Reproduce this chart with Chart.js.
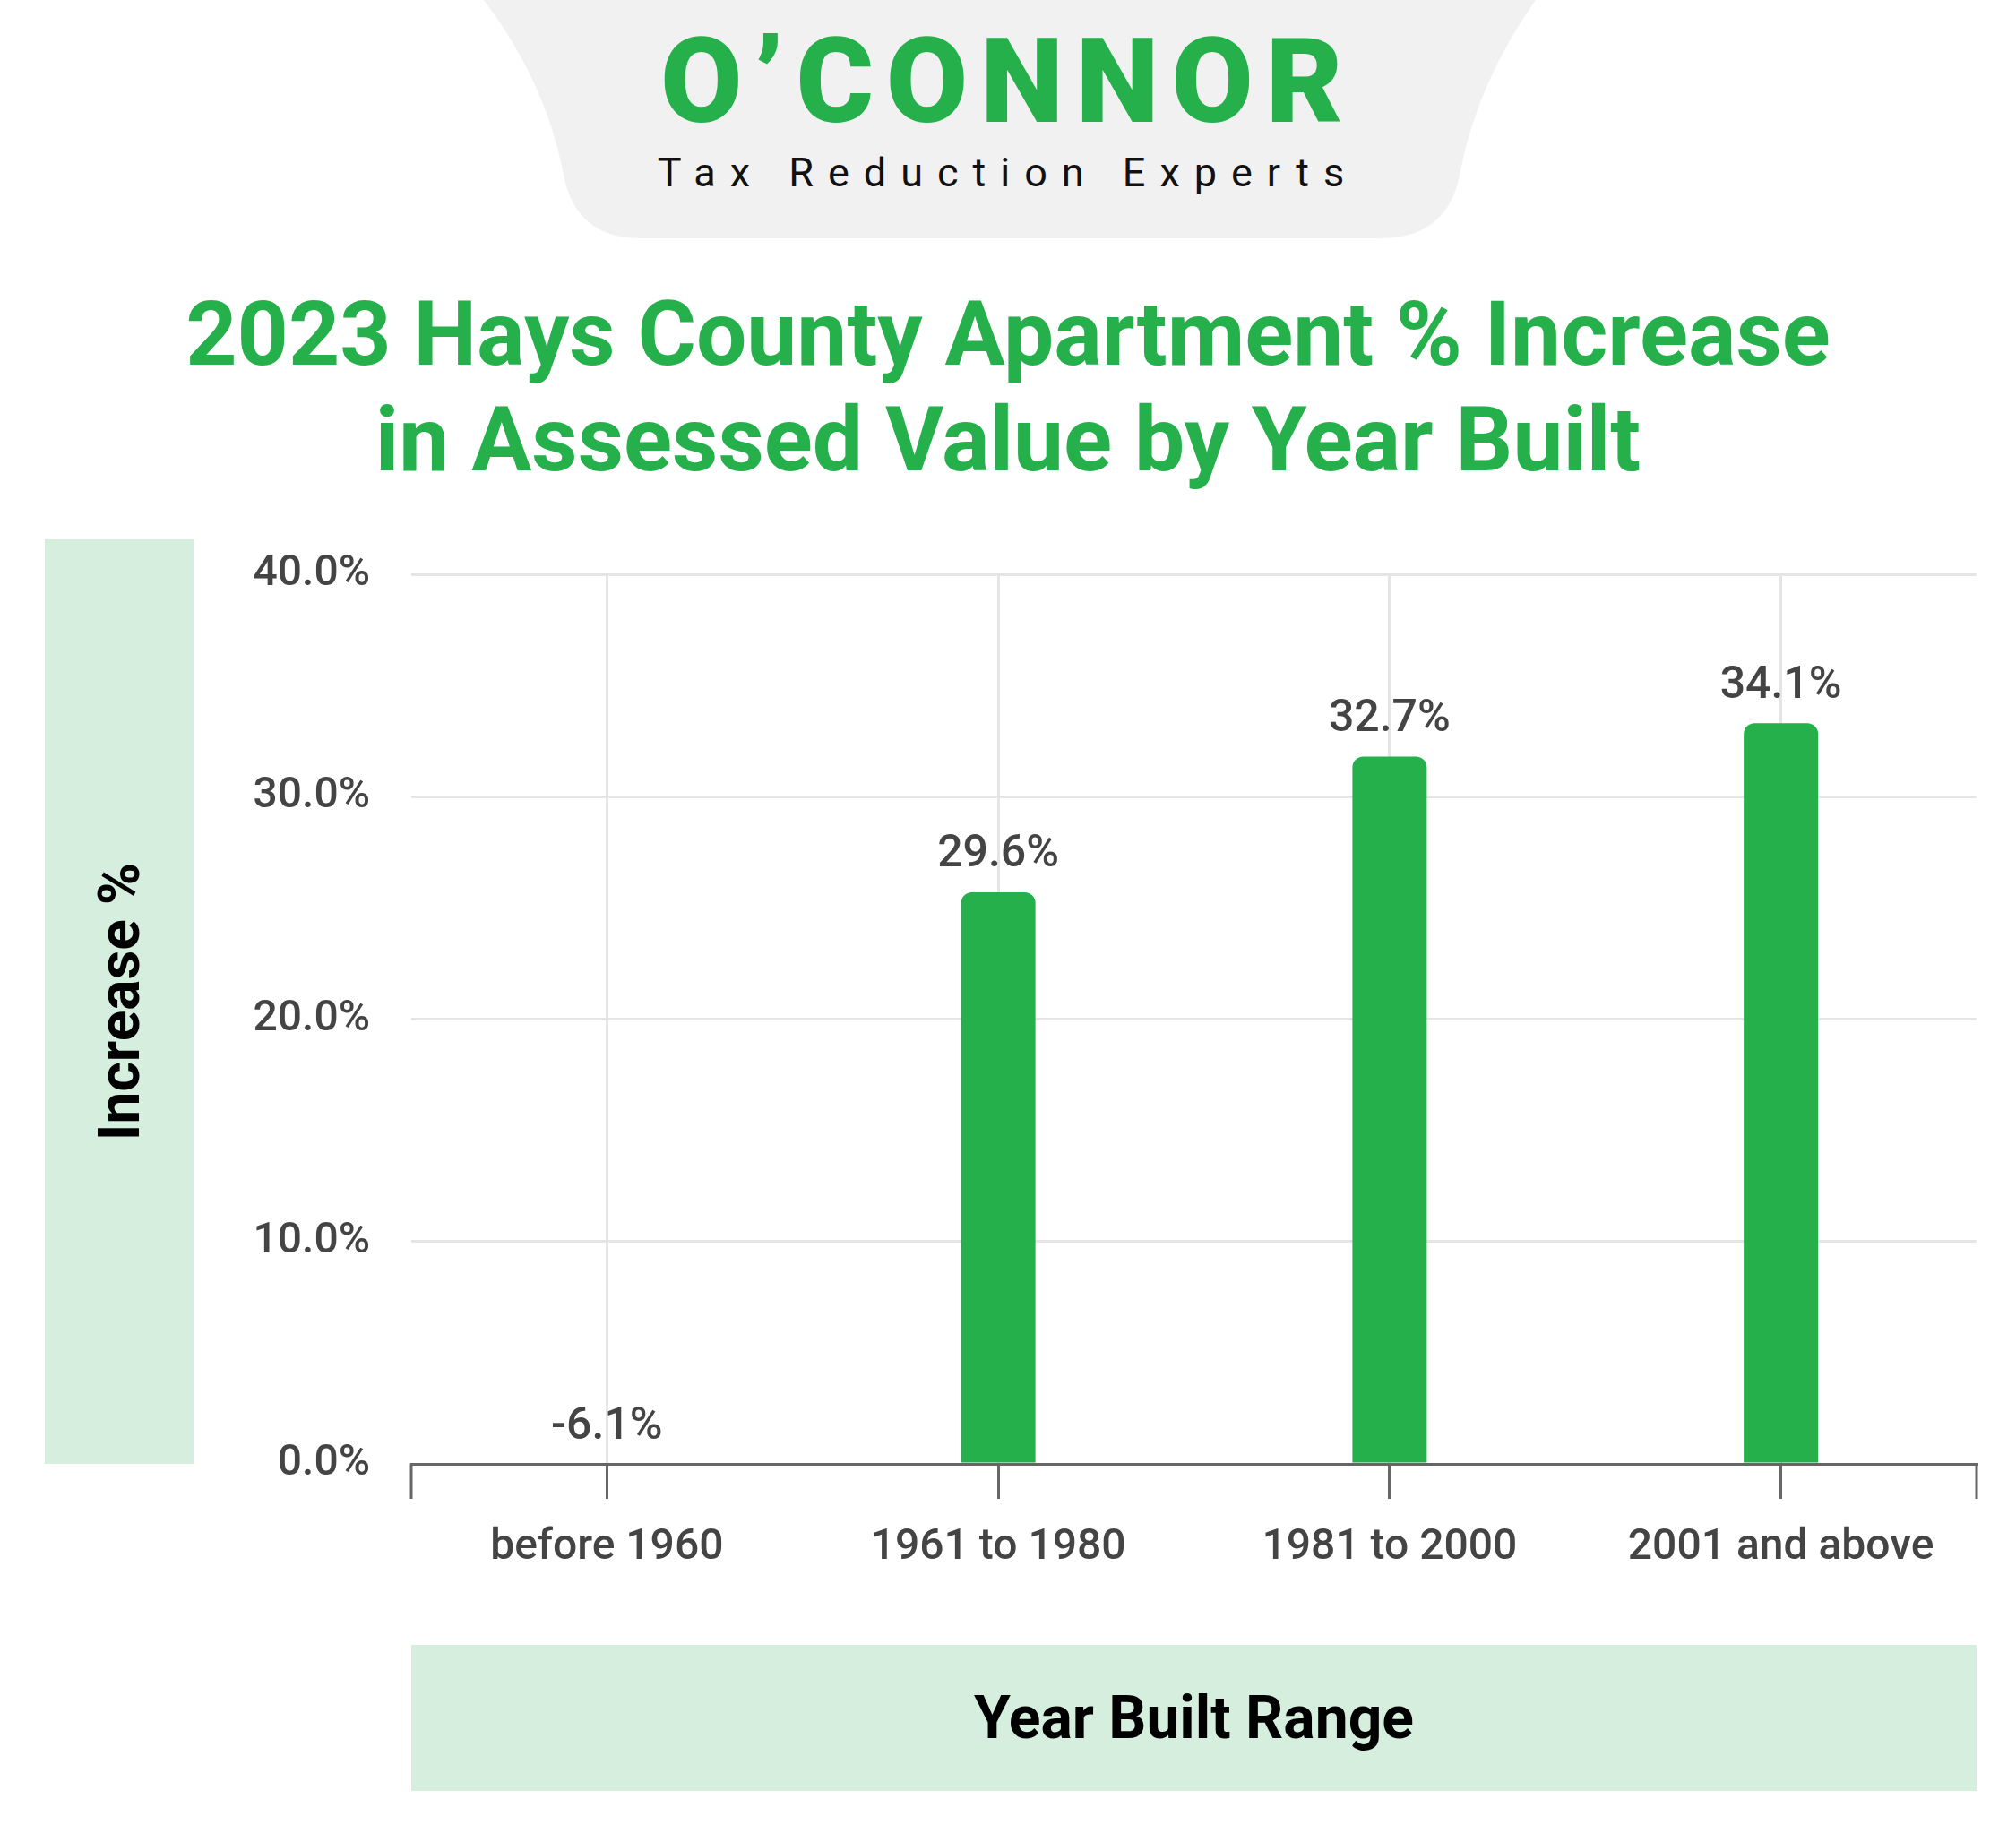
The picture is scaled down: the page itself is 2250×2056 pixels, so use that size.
<!DOCTYPE html>
<html><head><meta charset="utf-8">
<script src="https://cdn.jsdelivr.net/npm/chart.js@4/dist/chart.umd.min.js"></script>
<style>
body{margin:0;background:#fff;font-family:Roboto,sans-serif;}
#wrap{position:relative;width:2250px;height:2056px;overflow:hidden;}
.abs{position:absolute;}
#title{left:0;width:2250px;top:314px;text-align:center;color:#25b04b;font-weight:700;font-size:100px;line-height:118px;}
#ybox{left:50px;top:602px;width:166px;height:1032px;background:#d5eedd;}
#ylab{left:133px;top:1118px;transform:translate(-50%,-50%) rotate(-90deg);font-weight:700;font-size:64px;white-space:nowrap;}
#xbox{left:459px;top:1836px;width:1747px;height:163px;background:#d5eedd;display:flex;align-items:center;justify-content:center;font-weight:700;font-size:66px;}
#logo{left:0;top:0;}
#brand{left:0;width:2250px;top:14px;text-align:center;color:#25b04b;font-weight:900;font-size:132px;letter-spacing:14px;}
#tag{left:0;width:2250px;top:166px;text-align:center;font-size:45px;letter-spacing:16px;color:#111;}
canvas{position:absolute;left:0;top:0;}
</style></head><body>
<div id="wrap">
<svg id="logo" class="abs" width="2250" height="270"><path d="M540 0 L1714 0 Q1650 90 1630 190 Q1618 266 1540 266 L715 266 Q640 266 628 190 Q608 90 540 0 Z" fill="#f1f1f1"/></svg>
<div id="brand" class="abs">O’CONNOR</div>
<div id="tag" class="abs">Tax Reduction Experts</div>
<div id="title" class="abs">2023 Hays County Apartment % Increase<br>in Assessed Value by Year Built</div>
<div id="ybox" class="abs"></div>
<div id="ylab" class="abs">Increase %</div>
<div id="xbox" class="abs">Year Built Range</div>
<canvas id="c" width="2250" height="2056"></canvas>
</div>
<script>
const categories = ['before 1960','1961 to 1980','1981 to 2000','2001 and above'];
const barValues = [-6.1, 25.7, 31.8, 33.3];
const valueLabels = ['-6.1%','29.6%','32.7%','34.1%'];
const yTicks = [0,10,20,30,40];
const green = '#25b04b';

const labelPlugin = {
  id:'labels',
  afterDatasetsDraw(chart){
    const {ctx, scales:{x,y}} = chart;
    ctx.save();
    ctx.font = '500 50px Roboto';
    ctx.fillStyle = '#444';
    ctx.textAlign = 'center';
    ctx.textBaseline = 'bottom';
    barValues.forEach((v,i)=>{
      ctx.fillText(valueLabels[i], x.getPixelForValue(i), y.getPixelForValue(Math.max(v,0)) - 16);
    });
    const a = chart.chartArea;
    ctx.strokeStyle = '#666'; ctx.lineWidth = 3;
    [a.left, a.right].forEach(px=>{ctx.beginPath();ctx.moveTo(px,a.bottom);ctx.lineTo(px,a.bottom+39);ctx.stroke();});
    ctx.restore();
  }
};

new Chart(document.getElementById('c'), {
  type:'bar',
  data:{labels:categories, datasets:[{data:barValues, backgroundColor:green, barPercentage:0.19, categoryPercentage:1, borderRadius:{topLeft:12,topRight:12}, borderSkipped:'start'}]},
  options:{
    responsive:false, animation:false,
    layout:{padding:{top:641,right:44,bottom:222,left:0}},
    plugins:{legend:{display:false},tooltip:{enabled:false}},
    scales:{
      x:{
        offset:true,
        grid:{offset:false,color:'#e5e5e5',lineWidth:3,tickColor:'#666',tickLength:39},
        border:{color:'#666',width:3},
        ticks:{font:{family:'Roboto',size:48,weight:'500'},color:'#444',padding:26},
        afterFit(s){s.height=200;}
      },
      y:{
        min:0,max:40,
        afterBuildTicks(s){s.ticks = yTicks.map(v=>({value:v}));},
        grid:{color:'#e5e5e5',lineWidth:3,drawTicks:false},
        border:{display:false},
        ticks:{font:{family:'Roboto',size:48,weight:'500'},color:'#444',padding:46,callback:v=>v.toFixed(1)+'%'},
        afterFit(s){s.width=459;}
      }
    }
  },
  plugins:[labelPlugin]
});
</script>
</body></html>
